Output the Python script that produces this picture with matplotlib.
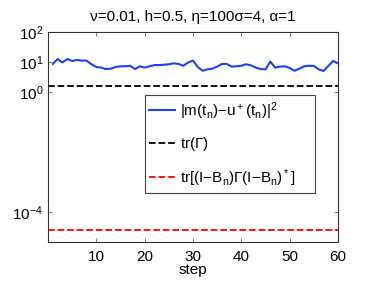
import numpy as np
import matplotlib
matplotlib.use("Agg")
import matplotlib.pyplot as plt

plt.rcParams['font.family'] = ['Liberation Sans', 'DejaVu Sans']
plt.rcParams['mathtext.fontset'] = 'custom'
plt.rcParams['mathtext.rm'] = 'Liberation Sans'
plt.rcParams['mathtext.it'] = 'Liberation Sans'

# data
steps = np.arange(1, 61)
err = [8.6, 12.6, 9.7, 12.6, 10.8, 11.7, 11.1, 11.1, 8.4, 6.8,
       6.5, 5.8, 6.0, 6.8, 7.2, 7.2, 7.5, 5.8, 7.2, 6.5,
       7.2, 7.9, 7.9, 8.1, 8.4, 9.0, 8.6, 7.5, 9.7, 11.1,
       6.8, 5.1, 5.7, 6.0, 7.0, 8.6, 8.6, 7.0, 7.2, 7.5,
       8.4, 7.7, 6.5, 5.8, 5.7, 10.3, 6.5, 7.0, 7.2, 6.3,
       5.1, 6.0, 7.2, 7.5, 7.4, 5.7, 5.0, 7.4, 10.8, 9.0]
tr_gamma = 1.6
tr_post = 2.5e-5

labels = [r'$\mathregular{|m(t_n){-}u^+(t_n)|^2}$',
          r'$\mathregular{tr(\Gamma)}$',
          r'$\mathregular{tr[(I{-}B_n)\Gamma(I{-}B_n)^*]}$']

fig = plt.figure(figsize=(3.74, 2.81), dpi=100)
ax = fig.add_axes([48 / 374, 39 / 281, 290 / 374, 210 / 281])

ax.semilogy(steps, err, color='#1f3fff', lw=1.5, label=labels[0])
ax.semilogy([0, 60], [tr_gamma, tr_gamma], 'k--', lw=1.3, label=labels[1])
ax.semilogy([0, 60], [tr_post, tr_post], '--', color='red', lw=1.3, label=labels[2])

ax.set_xlim(0, 60)
ax.set_ylim(1e-5, 1e2)
ax.set_xticks([10, 20, 30, 40, 50, 60])
ax.set_yticks([1e-4, 1e0, 1e1, 1e2])
ax.yaxis.set_minor_locator(matplotlib.ticker.NullLocator())
ax.tick_params(direction='in', top=True, right=True, labelsize=11, length=3,
               width=0.5, color='#444444')
ax.tick_params(axis='x', pad=6)
for s in ax.spines.values():
    s.set_linewidth(0.8)
    s.set_color('#333333')

ax.set_xlabel('step', fontsize=11, labelpad=-1)
ax.set_title('ν=0.01, h=0.5, η=100σ=4, α=1', fontsize=11, pad=8)

leg = ax.legend(loc='upper left', bbox_to_anchor=(0.333, 0.248, 0.588, 0.45),
                mode='expand', fontsize=11, fancybox=False, framealpha=1,
                edgecolor='#444444', borderaxespad=0, labelspacing=0.9,
                handlelength=1.7, handletextpad=0.35, borderpad=0.3)
leg.get_frame().set_linewidth(0.8)

fig.savefig('out.png', dpi=100)
